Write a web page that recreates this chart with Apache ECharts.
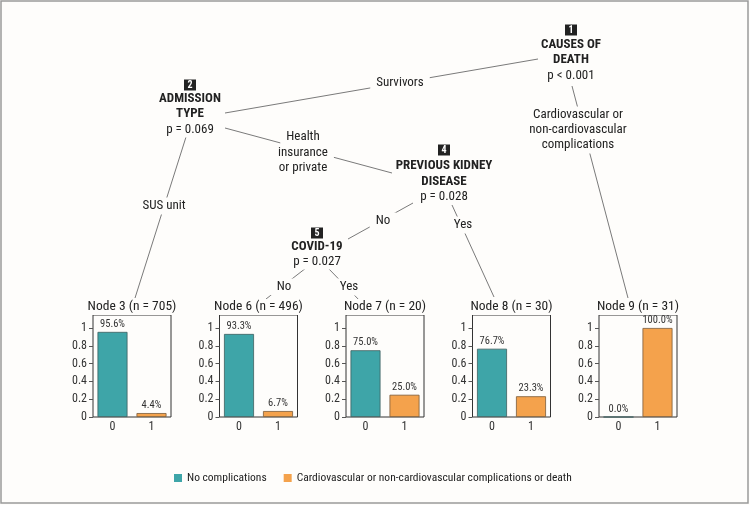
<!DOCTYPE html>
<html>
<head>
<meta charset="utf-8">
<script src="https://cdn.jsdelivr.net/npm/echarts@6/dist/echarts.min.js"></script>
<style>
html,body{margin:0;padding:0;background:#fff;}
#chart{width:750px;height:505px;}
</style>
</head>
<body>
<div id="chart"></div>
<script>
// ---- data ----
const categories = ['0', '1'];
const nodeNames = ['Node 3', 'Node 6', 'Node 7', 'Node 8', 'Node 9'];
const nodeN = [705, 496, 20, 30, 31];
const noComplications = [0.956, 0.933, 0.750, 0.767, 0.000];
const complications = [0.044, 0.067, 0.250, 0.233, 1.000];
const yTicks = [0, 0.2, 0.4, 0.6, 0.8, 1];
const seriesNames = ['No complications', 'Cardiovascular or non-cardiovascular complications or death'];

const FONT = '"Liberation Sans Narrow", "Arial Narrow", "Roboto Condensed", sans-serif';
const TEAL = '#3ea5a8';
const ORANGE = '#f4a24c';
const BG = '#fefdfb';
const LINE = '#7a7a7a';

const panelLefts = [93, 219.5, 346, 472.5, 599];
const panelTop = 315, panelW = 78, panelH = 102;

const grids = [], xAxes = [], yAxes = [], series = [];
nodeNames.forEach((nm, i) => {
  grids.push({left: panelLefts[i], top: panelTop, width: panelW, height: panelH,
    show: true, borderColor: '#333', borderWidth: 1, backgroundColor: 'transparent'});
  xAxes.push({type: 'category', gridIndex: i, data: categories,
    axisLine: {show: false}, axisTick: {show: false},
    axisLabel: {fontFamily: FONT, fontSize: 12, color: '#333', margin: 4}});
  yAxes.push({type: 'value', gridIndex: i, min: 0, max: 1.146,
    splitLine: {show: false}, axisLine: {show: false},
    axisTick: {show: true, length: 4, lineStyle: {color: '#555'}, customValues: yTicks},
    axisLabel: {fontFamily: FONT, fontSize: 12, color: '#333', margin: 6, customValues: yTicks,
      formatter: v => String(Math.round(v * 10) / 10)}});
  const lbl = {show: true, position: 'top', distance: 2, fontFamily: FONT, fontSize: 10.5, color: '#333',
    formatter: p => (p.value * 100).toFixed(1) + '%'};
  series.push({type: 'bar', name: seriesNames[0], xAxisIndex: i, yAxisIndex: i,
    data: [noComplications[i], '-'], barWidth: 30, barGap: '-100%',
    itemStyle: {color: TEAL, borderColor: '#3d5f60', borderWidth: 0.8},
    label: lbl, silent: true});
  series.push({type: 'bar', name: seriesNames[1], xAxisIndex: i, yAxisIndex: i,
    data: ['-', complications[i]], barWidth: 30, barGap: '-100%',
    itemStyle: {color: ORANGE, borderColor: '#7a5a3a', borderWidth: 0.8},
    label: lbl, silent: true});
});

// ---- tree annotation graphics ----
const g = [];
g.push({type: 'rect', shape: {x: 1, y: 1, width: 747, height: 502}, style: {fill: 'none', stroke: '#9a9a9a', lineWidth: 1.5}, z: 100});
function line(x1, y1, x2, y2) {
  g.push({type: 'line', shape: {x1, y1, x2, y2}, style: {stroke: LINE, lineWidth: 1}, z: 1});
}
function txt(x, y, s, opt, z) {
  opt = opt || {};
  g.push({type: 'text', x: x, y: y, z: z || 5, style: Object.assign({text: s, fontFamily: FONT, fontSize: 13,
    fill: '#222', align: 'center', verticalAlign: 'middle'}, opt)});
}
function label(x, ys, lines) {
  lines.forEach((s, k) => txt(x, ys[k], s, {backgroundColor: BG, padding: [2, 6]}));
}
function numBox(x, y, n) {
  g.push({type: 'rect', shape: {x: x - 6, y: y - 5.5, width: 12, height: 11}, style: {fill: '#222'}, z: 6});
  txt(x, y + 0.5, String(n), {fill: '#fff', fontSize: 10, fontWeight: 'bold'}, 8);
}
// edges
line(538, 59, 225, 113);      // 1 -> 2
line(572, 86, 628, 298);      // 1 -> 9
line(225, 128, 392, 173);     // 2 -> 4
line(186, 137, 135, 298);     // 2 -> 3
line(413, 203, 348, 239);     // 4 -> 5
line(452, 205, 494, 297);     // 4 -> 8
line(306, 268, 266, 299);     // 5 -> 6
line(328, 268, 361, 302);     // 5 -> 7

// inner nodes
numBox(571, 30, 1);
txt(571, 45, 'CAUSES OF', {fontWeight: 'bold'});
txt(571, 60, 'DEATH', {fontWeight: 'bold'});
txt(571, 76, 'p < 0.001', {backgroundColor: BG, padding: [1, 3]});

numBox(190, 85, 2);
txt(190, 99, 'ADMISSION', {fontWeight: 'bold'});
txt(190, 114, 'TYPE', {fontWeight: 'bold'});
txt(190, 130, 'p = 0.069', {backgroundColor: BG, padding: [1, 3]});

numBox(444, 150, 4);
txt(444, 166, 'PREVIOUS KIDNEY', {fontWeight: 'bold'});
txt(444, 182, 'DISEASE', {fontWeight: 'bold'});
txt(444, 197, 'p = 0.028', {backgroundColor: BG, padding: [1, 3]});

numBox(317, 233, 5);
txt(317, 247, 'COVID-19', {fontWeight: 'bold'});
txt(317, 262, 'p = 0.027', {backgroundColor: BG, padding: [1, 3]});

// edge labels
label(400, [83], ['Survivors']);
label(303, [137, 153, 168], ['Health', 'insurance', 'or private']);
label(164, [206], ['SUS unit']);
label(578, [115, 130, 145], ['Cardiovascular or', 'non-cardiovascular', 'complications']);
label(383, [221], ['No']);
label(463, [225], ['Yes']);
label(284, [287], ['No']);
label(349, [287], ['Yes']);

// node titles
nodeNames.forEach((nm, i) => {
  txt(panelLefts[i] + panelW / 2, 307, nm + ' (n = ' + nodeN[i] + ')', {fontSize: 13.5, backgroundColor: BG, padding: [1, 2]});
});

const chart = echarts.init(document.getElementById('chart'), null, {renderer: 'canvas'});
chart.setOption({
  backgroundColor: BG,
  animation: false,
  grid: grids,
  xAxis: xAxes,
  yAxis: yAxes,
  series: series,
  legend: {
    left: 169, top: 467, icon: 'rect', itemWidth: 8, itemHeight: 8, itemGap: 17,
    data: seriesNames,
    itemStyle: {borderWidth: 0},
    textStyle: {fontFamily: FONT, fontSize: 11.5, color: '#222'}
  },
  graphic: g
});
</script>
</body>
</html>
